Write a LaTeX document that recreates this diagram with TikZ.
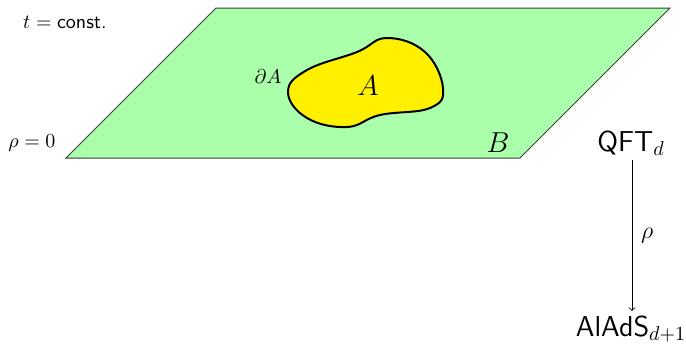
\documentclass[tikz,border=0pt]{standalone}
\usepackage{tikz}
\usetikzlibrary{positioning}
\definecolor{planegreen}{RGB}{170,255,170}
\definecolor{regionyellow}{RGB}{255,240,0}
\definecolor{edgegray}{RGB}{60,60,60}

\begin{document}
\begin{tikzpicture}[
  x=0.5pt, y=-0.5pt,
  plane/.style={draw=edgegray, fill=planegreen, line width=0.5pt},
  blob/.style={draw=black, fill=regionyellow, line width=1pt},
  lbl/.style={inner sep=1pt, font=\normalsize},
  big/.style={inner sep=1pt, font=\Large},
  theory/.style={inner sep=1pt, font=\Large\sffamily},
  arr/.style={->, line width=0.4pt}
]
\useasboundingbox (0,0) rectangle (686,344);

% Constant-time slice
\draw[plane] (66,158) -- (520,158) -- (670,8) -- (216,8) -- cycle;

% Region A
\draw[blob] plot[smooth cycle, tension=0.7] coordinates {
  (288,92) (307,70) (357,52) (387,38) (425,52) (443,88)
  (430,108) (380,115) (347,127) (307,118)};

% Labels
\node[lbl] (tconst) at (65,22)  {$t = \textsf{const.}$};
\node[lbl] (rho0)   at (32,143) {$\rho = 0$};
\node[lbl] (bdry)   at (268,77) {$\partial A$};
\node[big] (regA)   at (368,86) {$A$};
\node[big] (regB)   at (498,143) {$B$};

% QFT -> AlAdS
\node[theory] (qft)   at (631,143) {QFT$_d$};
\node[theory] (alads) at (631,329) {AlAdS$_{d+1}$};
\coordinate (top) at (632,160);
\coordinate (bot) at (632,311);
\draw[arr] (top) -- (bot) node[midway, right=1pt, font=\large] {$\rho$};

\end{tikzpicture}
\end{document}
